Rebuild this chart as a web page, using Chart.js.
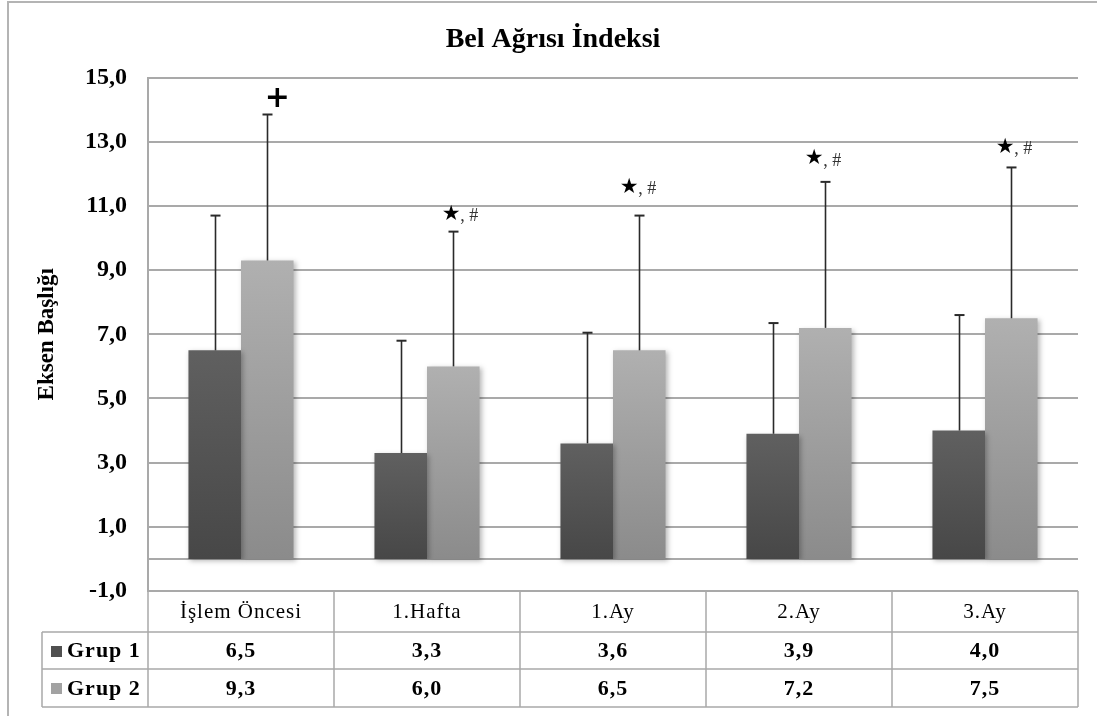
<!DOCTYPE html>
<html><head><meta charset="utf-8">
<script src="https://cdn.jsdelivr.net/npm/chart.js@4.4.1/dist/chart.umd.min.js"></script>
<style>html,body{margin:0;padding:0;background:#fff;}canvas{display:block;}</style>
</head><body>
<canvas id="c" width="1097" height="716"></canvas>
<script>
// ---- data ----
const categories = ['İşlem Öncesi', '1.Hafta', '1.Ay', '2.Ay', '3.Ay'];
const seriesNames = ['Grup 1', 'Grup 2'];
const group1 = [6.5, 3.3, 3.6, 3.9, 4.0];
const group2 = [9.3, 6.0, 6.5, 7.2, 7.5];
const group1Err = [4.2, 3.5, 3.45, 3.45, 3.6];
const group2Err = [4.55, 4.2, 4.2, 4.55, 4.7];
const marks = ['+', '★', '★', '★', '★'];
const markSuffix = ['', ', #', ', #', ', #', ', #'];
const yMin = -1, yMax = 15, yStep = 2;
const chartTitle = 'Bel Ağrısı İndeksi';
const yTitle = 'Eksen Başlığı';

// ---- style ----
const GRID = '#a9a9a9';
const serif = '"Liberation Serif", "Times New Roman", serif';
const barColors = [['#606060', '#474747'], ['#b0b0b0', '#8b8b8b']];
const legendColors = ['#505050', '#a2a2a2'];
const markOffsets = [[10, -16], [-2, -17], [-10, -28], [-11, -23], [-6, -20]];
const fmt = v => v.toFixed(1).replace('.', ',');

function gradFor(idx) {
  return (c) => {
    const chart = c.chart;
    if (!chart.chartArea || c.type !== 'data') return barColors[idx][0];
    const y = chart.scales.y;
    const t = y.getPixelForValue(c.raw), b = y.getPixelForValue(0);
    const g = chart.ctx.createLinearGradient(0, t, 0, b);
    g.addColorStop(0, barColors[idx][0]);
    g.addColorStop(1, barColors[idx][1]);
    return g;
  };
}

const decor = {
  id: 'decor',
  beforeDraw(chart) {
    const ctx = chart.ctx;
    ctx.save();
    ctx.fillStyle = '#fff';
    ctx.fillRect(0, 0, chart.width, chart.height);
    ctx.strokeStyle = '#b4b4b4';
    ctx.lineWidth = 2;
    ctx.beginPath();
    ctx.moveTo(8, chart.height); ctx.lineTo(8, 2); ctx.lineTo(chart.width, 2);
    ctx.stroke();
    ctx.restore();
  },
  beforeDatasetsDraw(chart) {
    const {ctx, chartArea, scales: {y}} = chart;
    ctx.save();
    ctx.strokeStyle = GRID; ctx.lineWidth = 2;
    const z = Math.round(y.getPixelForValue(0));
    ctx.beginPath(); ctx.moveTo(chartArea.left, z); ctx.lineTo(chartArea.right, z); ctx.stroke();
    ctx.restore();
    ctx.save();
    ctx.shadowColor = 'rgba(0,0,0,0.28)';
    ctx.shadowBlur = 5; ctx.shadowOffsetX = 2; ctx.shadowOffsetY = 2;
  },
  afterDatasetsDraw(chart) {
    const {ctx, scales: {y}} = chart;
    ctx.restore();
    const errs = [group1Err, group2Err];
    const vals = [group1, group2];
    ctx.save();
    ctx.strokeStyle = '#2a2a2a';
    for (let d = 0; d < 2; d++) {
      const meta = chart.getDatasetMeta(d);
      meta.data.forEach((bar, i) => {
        const x = Math.round(bar.x) + 0.5;
        const yt = y.getPixelForValue(vals[d][i] + errs[d][i]);
        const yb = y.getPixelForValue(vals[d][i]);
        ctx.lineWidth = 1.6;
        ctx.beginPath(); ctx.moveTo(x, yb); ctx.lineTo(x, yt); ctx.stroke();
        ctx.lineWidth = 2;
        ctx.beginPath(); ctx.moveTo(x - 5, yt); ctx.lineTo(x + 5, yt); ctx.stroke();
      });
    }
    // annotation marks over Grup 2
    const meta2 = chart.getDatasetMeta(1);
    meta2.data.forEach((bar, i) => {
      const yt = y.getPixelForValue(group2[i] + group2Err[i]);
      const cx = bar.x + markOffsets[i][0], cy = yt + markOffsets[i][1];
      ctx.fillStyle = '#000';
      ctx.textAlign = 'center'; ctx.textBaseline = 'middle';
      if (marks[i] === '+') {
        ctx.font = 'bold 30px "DejaVu Sans", sans-serif';
        ctx.fillText(marks[i], cx, cy + 1);
      } else {
        ctx.font = '21px "DejaVu Sans", sans-serif';
        ctx.fillText(marks[i], cx, cy);
        ctx.textAlign = 'left';
        ctx.fillStyle = '#333';
        ctx.font = '18px ' + serif;
        ctx.fillText(markSuffix[i], cx + 9, cy + 2);
      }
    });
    ctx.restore();
  },
  afterDraw(chart) {
    const {ctx, chartArea, scales: {x}} = chart;
    const n = categories.length;
    const colW = (chartArea.right - chartArea.left) / n;
    const top = chartArea.bottom;
    const rows = [top, top + 41, top + 78, top + 116];
    const left = 42;
    ctx.save();
    ctx.strokeStyle = GRID; ctx.lineWidth = 1.5;
    ctx.beginPath();
    ctx.moveTo(chartArea.left, rows[0]); ctx.lineTo(chartArea.right, rows[0]);
    for (let r = 1; r < 4; r++) { ctx.moveTo(left, rows[r]); ctx.lineTo(chartArea.right, rows[r]); }
    ctx.moveTo(left, rows[1]); ctx.lineTo(left, rows[3]);
    for (let i = 0; i <= n; i++) {
      const bx = Math.round(i < n ? x.getPixelForValue(i) - colW / 2 : x.getPixelForValue(n - 1) + colW / 2);
      ctx.moveTo(bx, rows[0]); ctx.lineTo(bx, rows[3]);
    }
    ctx.stroke();
    ctx.fillStyle = '#000';
    ctx.textBaseline = 'middle'; ctx.textAlign = 'center';
    try { ctx.letterSpacing = '1px'; } catch (e) {}
    ctx.font = '21px ' + serif;
    categories.forEach((c, i) => ctx.fillText(c, x.getPixelForValue(i), (rows[0] + rows[1]) / 2 + 1));
    const series = [group1, group2];
    ctx.font = 'bold 22px ' + serif;
    for (let s = 0; s < 2; s++) {
      const cy = (rows[s + 1] + rows[s + 2]) / 2 + 1;
      series[s].forEach((v, i) => ctx.fillText(fmt(v), x.getPixelForValue(i), cy));
      ctx.fillStyle = legendColors[s];
      ctx.fillRect(51, Math.round(cy - 6), 11, 11);
      ctx.fillStyle = '#000';
      ctx.textAlign = 'left';
      ctx.fillText(seriesNames[s], 67, cy);
      ctx.textAlign = 'center';
    }
    ctx.restore();
  }
};

new Chart(document.getElementById('c'), {
  type: 'bar',
  data: {
    labels: categories,
    datasets: [
      { label: seriesNames[0], data: group1, backgroundColor: gradFor(0), borderWidth: 0 },
      { label: seriesNames[1], data: group2, backgroundColor: gradFor(1), borderWidth: 0 }
    ]
  },
  options: {
    responsive: false,
    animation: false,
    devicePixelRatio: 1,
    layout: { padding: { left: 28, right: 19, top: 0, bottom: 125 } },
    datasets: { bar: { categoryPercentage: 0.565, barPercentage: 1.0 } },
    plugins: {
      legend: { display: false },
      tooltip: { enabled: false },
      title: {
        display: true, text: chartTitle, color: '#000',
        font: { family: serif, size: 28, weight: 'bold', lineHeight: 1.2 },
        padding: { top: 23, bottom: 21 }
      }
    },
    scales: {
      x: { display: false },
      y: {
        min: yMin, max: yMax,
        afterFit: (s) => { s.width = 120; },
        ticks: { stepSize: yStep, padding: 21, color: '#000', callback: v => fmt(v),
          font: { family: serif, size: 24, weight: 'bold' } },
        grid: { color: GRID, lineWidth: 2, drawTicks: false },
        border: { display: true, color: GRID, width: 2 },
        title: { display: true, text: yTitle, color: '#000',
          font: { family: serif, size: 23, weight: 'bold', lineHeight: 1.2 },
          padding: { top: 5, bottom: 0 } }
      }
    }
  },
  plugins: [decor]
});
</script>
</body></html>
